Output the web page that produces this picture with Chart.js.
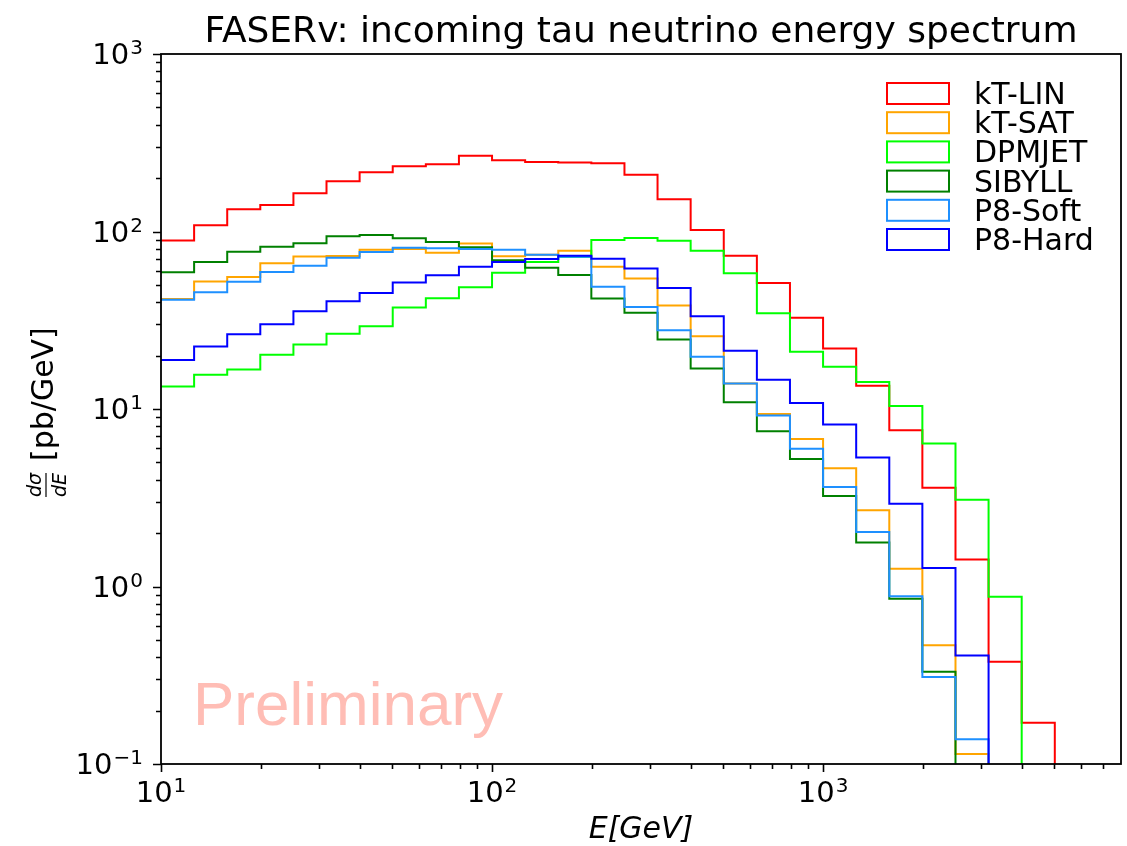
<!DOCTYPE html>
<html>
<head>
<meta charset="utf-8">
<script src="https://cdn.jsdelivr.net/npm/chart.js@4.4.1/dist/chart.umd.min.js"></script>
<style>
  html, body { margin: 0; padding: 0; background: #fff; }
  #wrap { width: 1127px; height: 846px; }
</style>
</head>
<body>
<div id="wrap"><canvas id="spectrum" width="1127" height="846"></canvas></div>
<script>
// ── Data (bin edges in GeV, dσ/dE in pb/GeV; 0 = empty bin) ──────────
const binEdges = [10, 12.59, 15.85, 19.95, 25.12, 31.62, 39.81, 50.12, 63.1, 79.43,
  100, 125.9, 158.5, 199.5, 251.2, 316.2, 398.1, 501.2, 631, 794.3,
  1000, 1259, 1585, 1995, 2512, 3162, 3981, 5012];

const seriesNames  = ['kT-LIN', 'kT-SAT', 'DPMJET', 'SIBYLL', 'P8-Soft', 'P8-Hard'];
const seriesColors = ['#ff0000', '#ffa500', '#00ff00', '#008000', '#1e90ff', '#0000ff'];

const ktLin  = [89, 108.5, 133.6, 141, 164, 192, 216, 233, 239, 267, 252, 246, 245, 242,
  209, 152, 102, 73, 51.2, 32.7, 21.9, 13.5, 7.6, 3.6, 1.42, 0.377, 0.171];
const ktSat  = [41.7, 52.2, 55.4, 66.2, 72.3, 72.8, 78.9, 79.7, 75.8, 85.5, 72.6, 74, 77.8, 63.3,
  54.3, 38.3, 25.7, 13.9, 9.36, 6.78, 4.64, 2.69, 1.26, 0.467, 0.114, 0, 0];
const dpmjet = [13.4, 15.6, 16.7, 20.2, 23.1, 26.5, 29.3, 37.3, 42.1, 48.5, 58.6, 67.4, 72, 89.5,
  91.8, 88.7, 78, 58.2, 34.6, 21, 17.3, 14.2, 10.4, 6.4, 3.08, 0.876, 0];
const sibyll = [58.9, 67.3, 76.9, 82.1, 85.8, 93.9, 95.5, 91.6, 87.3, 81.5, 68.8, 62.5, 56.8, 41.9,
  34.8, 24.6, 16.9, 10.9, 7.5, 5.22, 3.24, 1.77, 0.853, 0.331, 0, 0, 0];
const p8Soft = [41.2, 45.5, 52.1, 59.1, 64.1, 71.2, 76.6, 81, 80.4, 79.6, 78.8, 73.9, 72, 48.8,
  37.5, 27.8, 19.7, 13.9, 9.2, 5.97, 3.63, 2.03, 0.88, 0.309, 0.138, 0, 0];
const p8Hard = [18.9, 22.5, 26.4, 30, 35.5, 40.5, 45.1, 51.6, 56.7, 63.2, 67.4, 69.9, 73, 70.2,
  61.9, 48, 33.3, 21.3, 14.6, 10.8, 8.18, 5.33, 2.93, 1.27, 0.409, 0, 0];

const seriesValues = [ktLin, ktSat, dpmjet, sibyll, p8Soft, p8Hard];

const xMajorTicks = [10, 100, 1000];
const xTickExps   = ['1', '2', '3'];
const yMajorTicks = [0.1, 1, 10, 100, 1000];
const yTickExps   = ['\u22121', '0', '1', '2', '3'];

const titleText  = 'FASERv: incoming tau neutrino energy spectrum';
const xLabelText = 'E[GeV]';
const watermark  = 'Preliminary';

// ── Helpers ───────────────────────────────────────────────
const FONT = '"DejaVu Sans", sans-serif';
const Y_MIN = 0.1;
// empty bins sit below the axis (log scale can't take 0); clipped by the chart area
const EMPTY_LEVEL = Y_MIN / 100;

// histogram step: one point per left edge, then drop at the last edge
function stepPoints(vals) {
  const pts = vals.map((v, i) => ({ x: binEdges[i], y: v > 0 ? v : EMPTY_LEVEL }));
  pts.push({ x: binEdges[binEdges.length - 1], y: EMPTY_LEVEL });
  return pts;
}

function isMajor(v) {
  const e = Math.log10(v);
  return Math.abs(e - Math.round(e)) < 1e-9;
}
function isDecadeMultiple(v) {
  const p = Math.pow(10, Math.floor(Math.log10(v) + 1e-9));
  const s = v / p;
  return Math.abs(s - Math.round(s)) < 1e-6;
}

// "10" with a superscript exponent
function powLabel(ctx, exp, x, y, align) {
  ctx.font = '29px ' + FONT;
  const wb = ctx.measureText('10').width;
  ctx.font = '20px ' + FONT;
  const we = ctx.measureText(exp).width;
  const w = wb + we + 1;
  let x0 = x;
  if (align === 'center') x0 = x - w / 2;
  if (align === 'right') x0 = x - w;
  ctx.textAlign = 'left';
  ctx.textBaseline = 'alphabetic';
  ctx.font = '29px ' + FONT;
  ctx.fillText('10', x0, y);
  ctx.font = '20px ' + FONT;
  ctx.fillText(exp, x0 + wb + 1, y - 10);
}

// ── Decorations: frame, ticks, labels, legend ─────────────
const decorations = {
  id: 'decorations',
  beforeDatasetsDraw(chart) {
    const { ctx, chartArea: a } = chart;
    ctx.save();
    ctx.fillStyle = '#ffbdb5';
    ctx.font = '62px "Liberation Sans", Arial, sans-serif';
    ctx.textAlign = 'left';
    ctx.textBaseline = 'alphabetic';
    ctx.fillText(watermark, a.left + 32, a.bottom - 39);
    ctx.restore();
  },
  afterDatasetsDraw(chart) {
    const { ctx, chartArea: a, scales: { x, y } } = chart;
    ctx.save();
    ctx.strokeStyle = '#000';
    ctx.fillStyle = '#000';

    // ticks (outward)
    ctx.lineWidth = 1.6;
    ctx.beginPath();
    x.ticks.forEach(t => {
      if (!isDecadeMultiple(t.value)) return;
      const px = Math.round(x.getPixelForValue(t.value)) + 0.5;
      if (px < a.left - 1 || px > a.right + 1) return;
      const len = isMajor(t.value) ? 8 : 5;
      ctx.moveTo(px, a.bottom);
      ctx.lineTo(px, a.bottom + len);
    });
    y.ticks.forEach(t => {
      if (!isDecadeMultiple(t.value)) return;
      const py = Math.round(y.getPixelForValue(t.value)) + 0.5;
      const len = isMajor(t.value) ? 8 : 5;
      ctx.moveTo(a.left, py);
      ctx.lineTo(a.left - len, py);
    });
    ctx.stroke();

    // frame
    ctx.lineWidth = 1.8;
    ctx.strokeRect(a.left, a.top, a.right - a.left, a.bottom - a.top);

    // tick labels
    xMajorTicks.forEach((v, i) => powLabel(ctx, xTickExps[i], x.getPixelForValue(v), a.bottom + 38, 'center'));
    yMajorTicks.forEach((v, i) => powLabel(ctx, yTickExps[i], a.left - 18, y.getPixelForValue(v) + 10, 'right'));

    // title
    ctx.textAlign = 'center';
    ctx.font = '36px ' + FONT;
    ctx.fillText(titleText, (a.left + a.right) / 2, 42);

    // x label
    ctx.font = 'italic 30px ' + FONT;
    ctx.fillText(xLabelText, (a.left + a.right) / 2, 838);

    // y label: d sigma / dE  [pb/GeV]
    ctx.save();
    ctx.translate(53, (a.top + a.bottom) / 2);
    ctx.rotate(-Math.PI / 2);
    ctx.font = 'italic 19px ' + FONT;
    const nw = ctx.measureText('d\u03c3').width;
    const dw = ctx.measureText('dE').width;
    const fw = Math.max(nw, dw);
    const fc = -76;
    ctx.textAlign = 'center';
    ctx.fillText('d\u03c3', fc, -12);
    ctx.fillText('dE', fc, 13);
    ctx.lineWidth = 1.2;
    ctx.beginPath();
    ctx.moveTo(fc - fw / 2, -7);
    ctx.lineTo(fc + fw / 2, -7);
    ctx.stroke();
    ctx.font = '30px ' + FONT;
    ctx.textAlign = 'left';
    ctx.fillText('[pb/GeV]', -52, 0);
    ctx.restore();

    // legend
    ctx.lineWidth = 2;
    ctx.font = '30px ' + FONT;
    ctx.textAlign = 'left';
    seriesNames.forEach((name, i) => {
      const top = 83 + i * 29.2;
      ctx.strokeStyle = seriesColors[i];
      ctx.strokeRect(887, top, 62, 21);
      ctx.fillStyle = '#000';
      ctx.fillText(name, 974, top + 21);
    });

    ctx.restore();
  }
};

// ── Chart ─────────────────────────────────────────────────
new Chart(document.getElementById('spectrum'), {
  type: 'line',
  data: {
    datasets: seriesNames.map((name, i) => ({
      label: name,
      data: stepPoints(seriesValues[i]),
      borderColor: seriesColors[i],
      borderWidth: 2,
      stepped: 'before',
      fill: false,
      pointRadius: 0,
      order: seriesNames.length - i
    }))
  },
  options: {
    responsive: false,
    animation: false,
    devicePixelRatio: 1,
    layout: { padding: { left: 161, right: 6, top: 54, bottom: 82 } },
    plugins: {
      legend: { display: false },
      title: { display: false },
      tooltip: { enabled: false }
    },
    scales: {
      x: { type: 'logarithmic', min: 10, max: 7943, display: false },
      y: { type: 'logarithmic', min: Y_MIN, max: 1000, display: false }
    }
  },
  plugins: [decorations]
});
</script>
</body>
</html>
